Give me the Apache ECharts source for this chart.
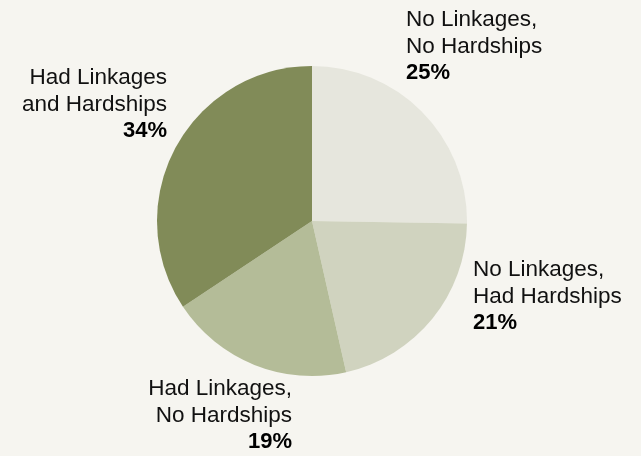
<!DOCTYPE html>
<html>
<head>
<meta charset="utf-8">
<script src="https://cdn.jsdelivr.net/npm/echarts@6/dist/echarts.min.js"></script>
<style>
  html, body { margin: 0; padding: 0; background: #f6f5f0; }
  #chart { width: 641px; height: 456px; }
</style>
</head>
<body>
<div id="chart"></div>
<script>
// Survey groups, clockwise from 12 o'clock
const categories = [
  'No Linkages,\nNo Hardships',
  'No Linkages,\nHad Hardships',
  'Had Linkages,\nNo Hardships',
  'Had Linkages\nand Hardships'
];
const shares = [25, 21, 19, 34];
const sliceColors = ['#e6e6dd', '#d0d3bf', '#b4bc98', '#818b58'];

// Where each label block sits (x, top y, alignment)
const labelSpots = [
  { x: 406, y: 7, align: 'left' },
  { x: 473, y: 257, align: 'left' },
  { x: 292, y: 376, align: 'right' },
  { x: 167, y: 65, align: 'right' }
];

const chart = echarts.init(document.getElementById('chart'), null, { renderer: 'canvas' });

chart.setOption({
  backgroundColor: '#f6f5f0',
  animation: false,
  series: [{
    type: 'pie',
    center: [312, 221],
    radius: [0, 155],
    startAngle: 90,
    clockwise: true,
    silent: true,
    itemStyle: { borderWidth: 0 },
    labelLine: { show: false },
    label: {
      show: true,
      position: 'outside',
      overflow: 'none',
      formatter: p => p.name + '\n{b|' + p.value + '%}',
      fontFamily: 'Liberation Sans',
      fontSize: 22.5,
      lineHeight: 26.5,
      color: '#111',
      rich: {
        b: { fontFamily: 'Liberation Sans', fontSize: 22, fontWeight: 'bold', lineHeight: 26.5, color: '#000' }
      }
    },
    labelLayout: params => {
      const s = labelSpots[params.dataIndex];
      return { x: s.x, y: s.y, align: s.align, verticalAlign: 'top', hideOverlap: false };
    },
    data: categories.map((name, i) => ({
      name: name,
      value: shares[i],
      itemStyle: { color: sliceColors[i] },
      label: { align: labelSpots[i].align, overflow: 'none', width: null }
    }))
  }]
});
</script>
</body>
</html>
